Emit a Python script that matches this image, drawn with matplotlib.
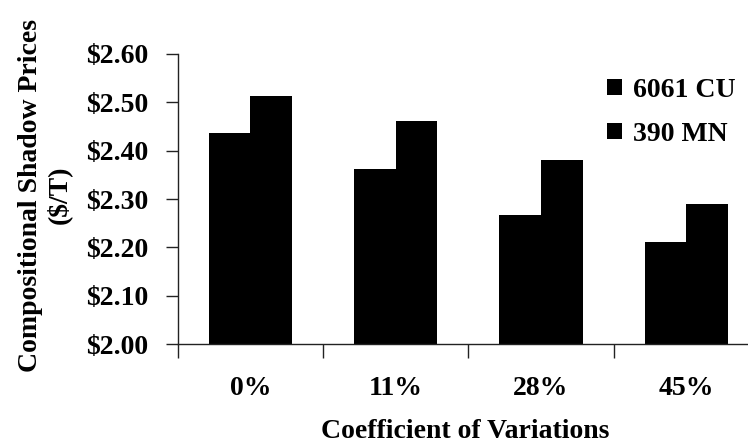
import matplotlib
matplotlib.use("Agg")
import matplotlib.pyplot as plt
import numpy as np

categories = ["0%", "11%", "28%", "45%"]
series_names = ["6061 CU", "390 MN"]
cu_prices = [2.436, 2.362, 2.267, 2.212]
mn_prices = [2.513, 2.462, 2.380, 2.290]
y_ticks = [2.00, 2.10, 2.20, 2.30, 2.40, 2.50, 2.60]

plt.rcParams["font.family"] = ["Liberation Serif", "DejaVu Serif"]
plt.rcParams["font.weight"] = "bold"
FS = 20

W, H = 748, 445
fig = plt.figure(figsize=(W / 100, H / 100), dpi=100)
fig.patch.set_facecolor("white")

left, right, top, bottom = 177.7, 759.0, 54.0, 344.0
ax = fig.add_axes([left / W, (H - bottom) / H, (right - left) / W, (bottom - top) / H])

x = np.arange(len(categories))
bw = 0.287
b1 = ax.bar(x - bw / 2, cu_prices, width=bw, color="black", linewidth=0, label=series_names[0])
b2 = ax.bar(x + bw / 2, mn_prices, width=bw, color="black", linewidth=0, label=series_names[1])

ax.set_xlim(-0.5, len(categories) - 0.5)
ax.set_ylim(2.0, 2.6)

for s in ("top", "right"):
    ax.spines[s].set_visible(False)
for s in ("left", "bottom"):
    ax.spines[s].set_linewidth(1.0)
    ax.spines[s].set_color("#222222")

ax.set_yticks(y_ticks)
ax.set_yticklabels([f"${v:.2f}" for v in y_ticks], fontsize=FS, fontweight="bold")
ax.tick_params(axis="y", direction="out", length=9, width=1, pad=12, color="#222222")

ax.set_xticks(x)
ax.set_xticklabels(categories, fontsize=FS, fontweight="bold")
ax.tick_params(axis="x", which="major", length=0, pad=23)
ax.set_xticks(np.arange(-0.5, len(categories), 1.0), minor=True)
ax.tick_params(axis="x", which="minor", direction="out", length=10, width=1, color="#222222")

fig.text(45 / W, (H - 195) / H, "Compositional Shadow Prices\n($/T)", rotation=90,
         ha="center", va="center", multialignment="center", fontsize=FS,
         fontweight="bold", linespacing=1.15)
fig.text(465 / W, (H - 438) / H, "Coefficient of Variations", ha="center", va="baseline",
         fontsize=FS, fontweight="bold")

leg = ax.legend(handles=[b1, b2], labels=series_names, loc="upper left",
                bbox_to_anchor=(607 / W, (H - 78) / H), bbox_transform=fig.transFigure,
                frameon=False, prop={"weight": "bold", "size": FS},
                handlelength=0.55, handleheight=0.5, handletextpad=0.4,
                labelspacing=0.68, borderpad=0, borderaxespad=0)

fig.savefig("out.png", dpi=100, facecolor="white")
